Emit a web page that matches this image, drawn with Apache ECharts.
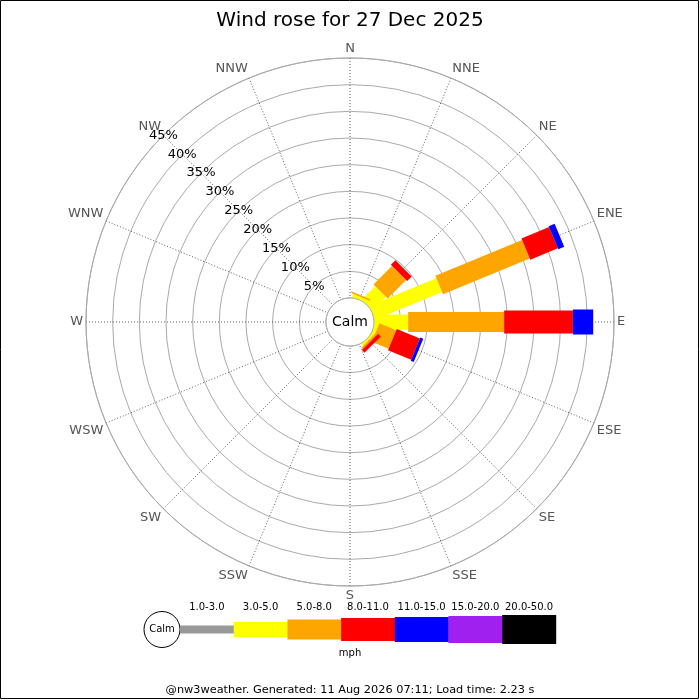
<!DOCTYPE html>
<html>
<head>
<meta charset="utf-8">
<title>Wind rose</title>
<script src="https://cdn.jsdelivr.net/npm/echarts@6/dist/echarts.min.js"></script>
<style>
  html, body { margin: 0; padding: 0; background: #fff; }
  #main { width: 700px; height: 700px; }
</style>
</head>
<body>
<div id="main"></div>
<script>
// compass points, clockwise from N
var directions = ['N', 'NNE', 'NE', 'ENE', 'E', 'ESE', 'SE', 'SSE',
                  'S', 'SSW', 'SW', 'WSW', 'W', 'WNW', 'NW', 'NNW'];
var speedBands = ['1.0-3.0', '3.0-5.0', '5.0-8.0', '8.0-11.0', '11.0-15.0', '15.0-20.0', '20.0-50.0'];
var radiusTicks = [0, 5, 10, 15, 20, 25, 30, 35, 40, 45];

// % of the day per direction, one list per speed band (mph)
var band1to3   = [0, 0,   0,   0,    0,    0,   0,   0, 0, 0, 0, 0, 0, 0, 0, 0];
var band3to5   = [0, 0.6, 3.6, 13.6, 6.4,  0.7, 0.4, 0, 0, 0, 0, 0, 0, 0, 0, 0];
var band5to8   = [0, 0.3, 4.9, 17.6, 18.0, 3.4, 0.4, 0, 0, 0, 0, 0, 0, 0, 0, 0];
var band8to11  = [0, 0,   1.2, 5.6,  12.9, 4.7, 0.7, 0, 0, 0, 0, 0, 0, 0, 0, 0];
var band11to15 = [0, 0,   0,   1.2,  3.8,  0.6, 0,   0, 0, 0, 0, 0, 0, 0, 0, 0];
var band15to20 = [0, 0,   0,   0,    0,    0,   0,   0, 0, 0, 0, 0, 0, 0, 0, 0];
var band20to50 = [0, 0,   0,   0,    0,    0,   0,   0, 0, 0, 0, 0, 0, 0, 0, 0];

var bandValues = [band1to3, band3to5, band5to8, band8to11, band11to15, band15to20, band20to50];
var bandColors = ['#999999', '#ffff00', '#ffa500', '#ff0000', '#0000ff', '#a020f0', '#000000'];
var bandWidths = [8, 15, 20, 23, 25, 27, 29];

var cx = 350, cy = 322, calmR = 24, outerR = 264;
var font = '"DejaVu Sans", sans-serif';

// angle axis starts at NW so the % labels sit on the NW spoke
function dirToAngle(i) {
  return (i * 22.5 + 45) % 360;
}

// stack the bands per direction
var cum = directions.map(function () { return 0; });
var series = [];
bandValues.forEach(function (vals, b) {
  var data = [];
  vals.forEach(function (v, i) {
    if (v > 0) {
      data.push([dirToAngle(i), cum[i], cum[i] + v]);
      cum[i] += v;
    }
  });
  series.push({
    type: 'custom',
    name: speedBands[b],
    coordinateSystem: 'polar',
    data: data,
    renderItem: function (params, api) {
      var ang = api.value(0), r0 = api.value(1), r1 = api.value(2);
      var cs = params.coordSys;
      var p0 = r0 === 0 ? [cs.cx, cs.cy] : api.coord([r0, ang]);
      var p1 = api.coord([r1, ang]);
      var far = api.coord([45, ang]);
      var dx = far[0] - cs.cx, dy = far[1] - cs.cy;
      var len = Math.sqrt(dx * dx + dy * dy);
      var nx = -dy / len * bandWidths[b] / 2, ny = dx / len * bandWidths[b] / 2;
      return {
        type: 'polygon',
        shape: { points: [
          [p0[0] + nx, p0[1] + ny], [p1[0] + nx, p1[1] + ny],
          [p1[0] - nx, p1[1] - ny], [p0[0] - nx, p0[1] - ny]
        ] },
        style: { fill: bandColors[b] }
      };
    }
  });
});

// legend strip at the bottom
var legendItems = [];
var legX = 180, legW = 53.7, legY = 629.5;
legendItems.push({
  type: 'circle', shape: { cx: legX - 18, cy: legY, r: 18 },
  style: { fill: '#fff', stroke: '#000', lineWidth: 1 }
});
legendItems.push({
  type: 'text', x: legX - 18, y: legY,
  style: { text: 'Calm', fontSize: 10, fontFamily: font, fill: '#000', align: 'center', verticalAlign: 'middle' }
});
speedBands.forEach(function (lab, b) {
  legendItems.push({
    type: 'rect',
    shape: { x: legX + b * legW, y: legY - bandWidths[b] / 2, width: legW + 0.3, height: bandWidths[b] },
    style: { fill: bandColors[b] }
  });
  legendItems.push({
    type: 'text', x: legX + b * legW + legW / 2, y: 607,
    style: { text: lab, fontSize: 10, fontFamily: font, fill: '#000', align: 'center', verticalAlign: 'middle' }
  });
});
legendItems.push({
  type: 'text', x: 350, y: 653,
  style: { text: 'mph', fontSize: 10, fontFamily: font, fill: '#000', align: 'center', verticalAlign: 'middle' }
});

var chart = echarts.init(document.getElementById('main'));
var option = {
  animation: false,
  backgroundColor: '#fff',
  textStyle: { fontFamily: font },
  title: {
    text: 'Wind rose for 27 Dec 2025',
    left: 'center',
    top: 6,
    textStyle: { fontSize: 20, fontWeight: 'normal', color: '#000', fontFamily: font }
  },
  polar: { center: [cx, cy], radius: [calmR, outerR] },
  angleAxis: {
    type: 'value',
    min: 0,
    max: 360,
    interval: 22.5,
    startAngle: 135,
    clockwise: true,
    axisLine: { show: true, lineStyle: { color: '#aaa', width: 1 } },
    axisTick: { show: false },
    axisLabel: {
      margin: 3,
      color: '#555',
      fontSize: 13,
      align: 'center',
      verticalAlign: 'middle',
      formatter: function (v) {
        if (v >= 360) return '';
        return directions[(Math.round(v / 22.5) + 14) % 16];
      }
    },
    splitLine: { show: true, lineStyle: { color: '#333', width: 0.8, type: [1, 2] } }
  },
  radiusAxis: {
    type: 'value',
    min: radiusTicks[0],
    max: radiusTicks[radiusTicks.length - 1],
    interval: radiusTicks[1] - radiusTicks[0],
    axisLine: { show: false },
    axisTick: { show: false },
    axisLabel: {
      showMinLabel: false,
      margin: 0,
      color: '#000',
      fontSize: 13,
      align: 'center',
      verticalAlign: 'middle',
      formatter: '{value}%'
    },
    splitLine: { show: true, lineStyle: { color: '#aaa', width: 1 } }
  },
  series: series,
  graphic: [
    {
      type: 'circle', z: 100,
      shape: { cx: cx, cy: cy, r: calmR },
      style: { fill: '#fff', stroke: '#aaa', lineWidth: 1 }
    },
    {
      type: 'text', z: 101, x: cx, y: cy,
      style: { text: 'Calm', fontSize: 14, fontFamily: font, fill: '#000', align: 'center', verticalAlign: 'middle' }
    },
    { type: 'group', z: 100, children: legendItems },
    {
      type: 'text', z: 100, x: 350, y: 690,
      style: { text: '@nw3weather. Generated: 11 Aug 2026 07:11; Load time: 2.23 s', fontSize: 11.3, fontFamily: font, fill: '#000', align: 'center', verticalAlign: 'middle' }
    },
    {
      type: 'rect', z: 100,
      shape: { x: 0.5, y: 0.5, width: 698, height: 698 },
      style: { fill: null, stroke: '#000', lineWidth: 1 }
    }
  ]
};
chart.setOption(option);
</script>
</body>
</html>
